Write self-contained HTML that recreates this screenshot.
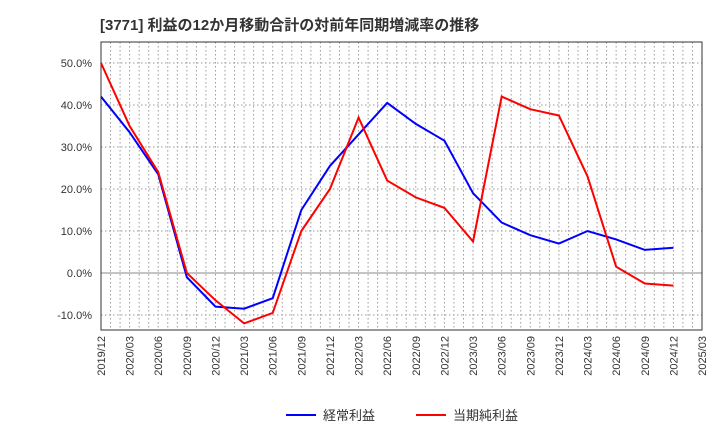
<!DOCTYPE html>
<html><head><meta charset="utf-8"><style>
body{margin:0;background:#fff;width:720px;height:440px;overflow:hidden;font-family:"Liberation Sans","Noto Sans CJK JP",sans-serif}
</style></head><body>
<svg id="c" width="720" height="440" xmlns="http://www.w3.org/2000/svg">
<text x="100" y="30" font-size="15" font-weight="bold" fill="#333">[3771]  利益の12か月移動合計の対前年同期増減率の推移</text>
</svg>
<script>
const categories=["2019/12","2020/03","2020/06","2020/09","2020/12","2021/03","2021/06","2021/09","2021/12","2022/03","2022/06","2022/09","2022/12","2023/03","2023/06","2023/09","2023/12","2024/03","2024/06","2024/09","2024/12","2025/03"];
const keijo=[42,33.5,23.5,-1,-8,-8.5,-6,15,25.5,33,40.5,35.5,31.5,19,12,9,7,10,8,5.5,6];
const junri=[50,35,24,0,-6.5,-12,-9.5,10,20,37,22,18,15.5,7.5,42,39,37.5,23,1.5,-2.5,-3];
const yTicks=[50,40,30,20,10,0,-10];
const NS="http://www.w3.org/2000/svg",svg=document.getElementById('c');
const L=101,R=702,T=42,B=330;
const x=i=>L+(R-L)*i/(categories.length-1);
const y=v=>273-v*4.2;
function mk(t,a){const e=document.createElementNS(NS,t);for(const k in a)e.setAttribute(k,a[k]);svg.appendChild(e);return e;}
for(let m=1;m<(categories.length-1)*3;m++){const xx=L+(R-L)*m/((categories.length-1)*3);
const g=mk('line',{x1:xx,x2:xx,y1:T,y2:B,stroke:'#999','stroke-dasharray':'1.5,2.5','stroke-width':1});

}
yTicks.forEach(v=>{
const g=mk('line',{x1:L,x2:R,y1:y(v),y2:y(v),stroke:v===0?'#888':'#999','stroke-dasharray':v===0?'':'1.5,2.5','stroke-width':1});


const t=mk('text',{x:L-9,y:y(v)+4,'text-anchor':'end','font-size':11,fill:'#333'});
t.textContent=v.toFixed(1)+'%';


});
const fr=mk('rect',{x:L,y:T,width:R-L,height:B-T,fill:'none',stroke:'#333','stroke-width':1});


categories.forEach((c,i)=>{
const t=mk('text',{transform:`translate(${x(i)+4},${B+6}) rotate(-90)`,'text-anchor':'end','font-size':11,fill:'#333'});
t.textContent=c;


});
function line(d,col,name){
const p=mk('polyline',{points:d.map((v,i)=>x(i)+','+y(v)).join(' '),fill:'none',stroke:col,'stroke-width':2});

}
line(keijo,'#0000ff','series-keijo');
line(junri,'#ff0000','series-junri');
function leg(x0,col,label,name){
const l=mk('line',{x1:x0,x2:x0+30,y1:415,y2:415,stroke:col,'stroke-width':2});


const t=mk('text',{x:x0+37,y:420,'font-size':13,fill:'#333'});
t.textContent=label;

}
leg(286,'#0000ff','経常利益','legend-keijo');
leg(416,'#ff0000','当期純利益','legend-junri');
</script>
</body></html>
